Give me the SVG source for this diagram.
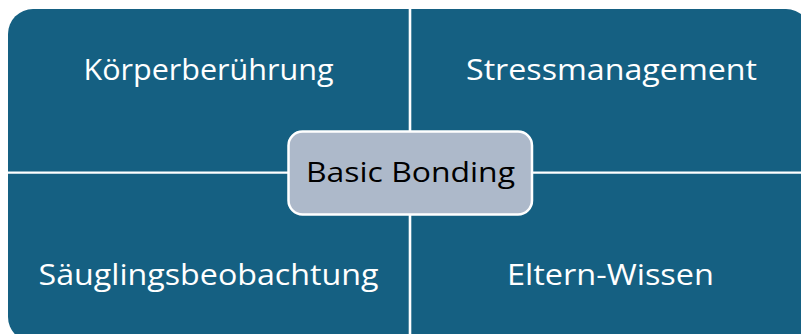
<svg xmlns="http://www.w3.org/2000/svg" width="801" height="334" viewBox="0 0 801 334">
  <style>
    .quad { fill: #156082; }
    .qlabel { font-family: "Open Sans", "Liberation Sans", Arial, sans-serif; font-size: 29px; fill: #ffffff; text-anchor: middle; }
    .center { fill: #ADB9CA; stroke: #ffffff; stroke-width: 2.5; }
    .clabel { font-family: "Open Sans", "Liberation Sans", Arial, sans-serif; font-size: 27px; fill: #000000; text-anchor: middle; }
  </style>
  <rect width="801" height="334" fill="#ffffff"/>
  <g id="node-koerper">
    <path class="quad" d="M8,34 A25,25 0 0 1 33,9 H408.7 V171.5 H8 Z"/>
    <text class="qlabel" x="208.5" y="80" textLength="250" lengthAdjust="spacingAndGlyphs">Körperberührung</text>
  </g>
  <g id="node-stress">
    <path class="quad" d="M411.3,9 H786 A25,25 0 0 1 811,34 V171.5 H411.3 Z"/>
    <text class="qlabel" x="611.5" y="80" textLength="291" lengthAdjust="spacingAndGlyphs">Stressmanagement</text>
  </g>
  <g id="node-saeugling">
    <path class="quad" d="M8,173.8 H408.7 V342 H33 A25,25 0 0 1 8,317 Z"/>
    <text class="qlabel" x="208.5" y="285" textLength="340" lengthAdjust="spacingAndGlyphs">Säuglingsbeobachtung</text>
  </g>
  <g id="node-eltern">
    <path class="quad" d="M411.3,173.8 H811 V317 A25,25 0 0 1 786,342 H411.3 Z"/>
    <text class="qlabel" x="610.5" y="285" textLength="207" lengthAdjust="spacingAndGlyphs">Eltern-Wissen</text>
  </g>
  <g id="connectors"></g>
  <g id="node-basic">
    <rect class="center" x="288.5" y="131.5" width="243.5" height="83" rx="14" ry="14"/>
    <text class="clabel" x="410.5" y="182" textLength="209" lengthAdjust="spacingAndGlyphs">Basic Bonding</text>
  </g>
</svg>
